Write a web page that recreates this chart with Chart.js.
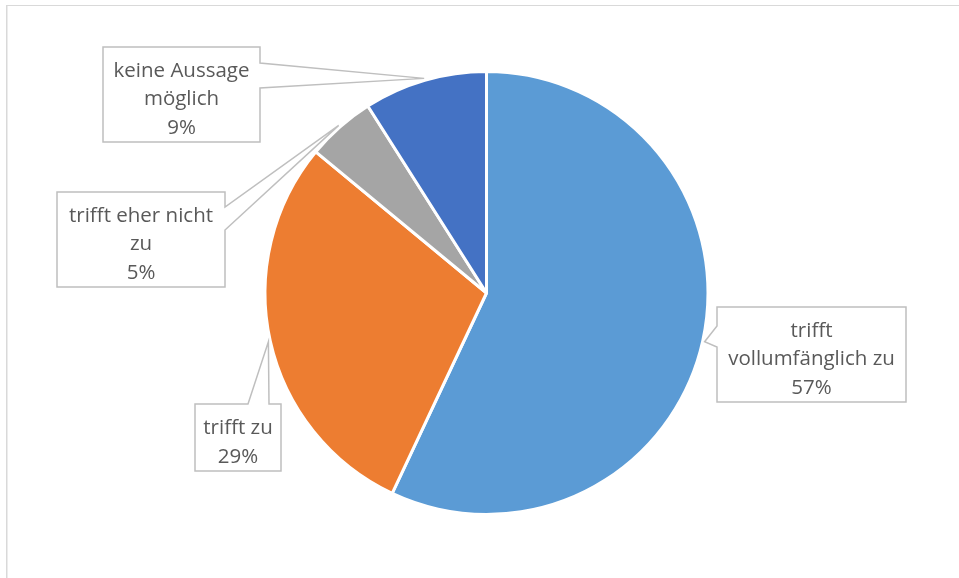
<!DOCTYPE html>
<html>
<head>
<meta charset="utf-8">
<script src="https://cdn.jsdelivr.net/npm/chart.js@4"></script>
<style>
  html, body { margin: 0; padding: 0; background: #ffffff; }
  #wrap { width: 959px; height: 578px; position: relative; }
</style>
</head>
<body>
<div id="wrap"><canvas id="c" width="959" height="578"></canvas></div>
<script>
// ---- data ----
const categories = ['trifft vollumfänglich zu', 'trifft zu', 'trifft eher nicht zu', 'keine Aussage möglich'];
const values = [57, 29, 5, 9];
const percentLabels = ['57%', '29%', '5%', '9%'];
const sliceColors = ['#5B9BD5', '#ED7D31', '#A5A5A5', '#4472C4'];

// ---- callout layout (positions only) ----
const callouts = [
  { lines: ['trifft', 'vollumfänglich zu'], box: { x: 717, y: 307, w: 189, h: 95 }, side: 'left', a: 326, b: 347 },
  { lines: ['trifft zu'], box: { x: 195, y: 404, w: 86, h: 67 }, side: 'top', a: 248, b: 269 },
  { lines: ['trifft eher nicht', 'zu'], box: { x: 57, y: 192, w: 168, h: 95 }, side: 'right', a: 207, b: 230 },
  { lines: ['keine Aussage', 'möglich'], box: { x: 103, y: 47, w: 157, h: 95 }, side: 'right', a: 63, b: 88 }
];

const FONT = '20.5px "Open Sans", sans-serif';
const TEXT_COLOR = '#595959';

const frame = {
  id: 'frame',
  beforeDraw(chart) {
    const ctx = chart.ctx;
    ctx.save();
    ctx.fillStyle = '#ffffff';
    ctx.fillRect(0, 0, chart.width, chart.height);
    ctx.fillStyle = '#D9D9D9';
    ctx.fillRect(6, 5, 953, 1);
    ctx.fillRect(6, 5, 1.5, 573);
    ctx.restore();
  }
};

const calloutPlugin = {
  id: 'callouts',
  afterDatasetsDraw(chart) {
    const ctx = chart.ctx;
    const meta = chart.getDatasetMeta(0);
    ctx.save();
    meta.data.forEach((arc, i) => {
      const c = callouts[i];
      if (!c) return;
      const mid = (arc.startAngle + arc.endAngle) / 2;
      const r = arc.outerRadius + 2;
      const tx = arc.x + Math.cos(mid) * r;
      const ty = arc.y + Math.sin(mid) * r;
      const { x, y, w, h } = c.box;
      ctx.beginPath();
      if (c.side === 'top') {
        ctx.moveTo(x, y); ctx.lineTo(c.a, y); ctx.lineTo(tx, ty); ctx.lineTo(c.b, y);
        ctx.lineTo(x + w, y); ctx.lineTo(x + w, y + h); ctx.lineTo(x, y + h);
      } else if (c.side === 'right') {
        ctx.moveTo(x, y); ctx.lineTo(x + w, y); ctx.lineTo(x + w, c.a); ctx.lineTo(tx, ty);
        ctx.lineTo(x + w, c.b); ctx.lineTo(x + w, y + h); ctx.lineTo(x, y + h);
      } else {
        ctx.moveTo(x, y); ctx.lineTo(x + w, y); ctx.lineTo(x + w, y + h); ctx.lineTo(x, y + h);
        ctx.lineTo(x, c.b); ctx.lineTo(tx, ty); ctx.lineTo(x, c.a);
      }
      ctx.closePath();
      ctx.fillStyle = '#ffffff';
      ctx.fill();
      ctx.lineWidth = 1.5;
      ctx.strokeStyle = '#BFBFBF';
      ctx.stroke();

      const lines = c.lines.concat([percentLabels[i]]);
      const lh = 28.5;
      ctx.fillStyle = TEXT_COLOR;
      ctx.font = FONT;
      ctx.textAlign = 'center';
      ctx.textBaseline = 'middle';
      const cx = x + w / 2;
      const cy = y + h / 2 + 5;
      lines.forEach((t, k) => {
        ctx.fillText(t, cx, cy + (k - (lines.length - 1) / 2) * lh);
      });
    });
    ctx.restore();
  }
};

new Chart(document.getElementById('c'), {
  type: 'pie',
  data: {
    labels: categories,
    datasets: [{
      data: values,
      backgroundColor: sliceColors,
      borderColor: '#ffffff',
      borderWidth: 3
    }]
  },
  options: {
    responsive: false,
    animation: false,
    layout: { padding: { top: 70, bottom: 62, left: 14, right: 0 } },
    plugins: {
      legend: { display: false },
      tooltip: { enabled: false }
    }
  },
  plugins: [frame, calloutPlugin]
});
</script>
</body>
</html>
